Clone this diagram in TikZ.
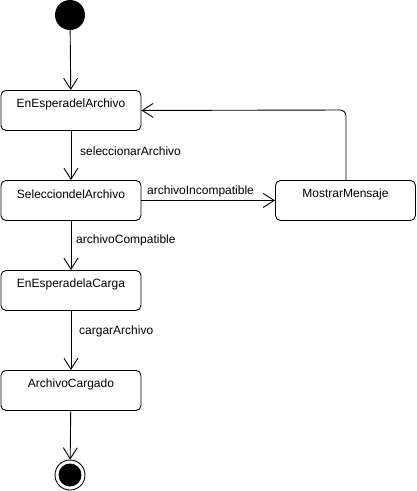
\documentclass[tikz,border=0pt]{standalone}
\usepackage{fontspec}
\setmainfont{Liberation Sans}
\usetikzlibrary{arrows.meta}
\begin{document}
\begin{tikzpicture}[x=1pt,y=-1pt,
  state/.style={draw, rounded corners=5pt, line width=0.9pt, minimum width=140pt, minimum height=40pt, inner sep=0pt, anchor=north west},
  lbl/.style={font=\fontsize{12pt}{14pt}\selectfont, inner sep=0pt},
  flow/.style={draw, line width=0.9pt, -{Straight Barb[length=11pt,width=14pt,line width=0.9pt]}},
  every label/.style={lbl, anchor=center, yshift=-14pt}]
  \useasboundingbox (0,0) rectangle (416,491);
  % initial and final pseudo-states
  \node (init) [circle, fill=black, minimum size=30pt, inner sep=0pt] at (70,15) {};
  \node (fin) [circle, draw, line width=0.9pt, minimum size=30pt, inner sep=0pt] at (70,475) {};
  \fill (fin.center) circle (11.5pt);
  % states
  \node (s1) [state, label=north:EnEsperadelArchivo] at (0.5,90) {};
  \node (s2) [state, label=north:SelecciondelArchivo] at (0.5,180) {};
  \node (s3) [state, label=north:EnEsperadelaCarga] at (0.5,270) {};
  \node (s4) [state, label=north:ArchivoCargado] at (0.5,370) {};
  \node (msg) [state, label=north:MostrarMensaje] at (275,180) {};
  % transitions
  \draw[flow] (init) -- (s1);
  \draw[flow] (s1) -- (s2);
  \node[lbl, anchor=west] at (80,151) {seleccionarArchivo};
  \draw[flow] (s2) -- (s3);
  \node[lbl, anchor=west] at (76,240) {archivoCompatible};
  \draw[flow] (s3) -- (s4);
  \node[lbl, anchor=west] at (79,331) {cargarArchivo};
  \draw[flow] (s4) -- (fin);
  \draw[flow] (s2.east) -- (msg.west);
  \node[lbl, anchor=west] at (147,191) {archivoIncompatible};
  \coordinate (bend) at (346,110);
  \draw[flow, rounded corners=6pt] (msg.north -| bend) -- (bend) -- (s1.east);
\end{tikzpicture}
\end{document}
